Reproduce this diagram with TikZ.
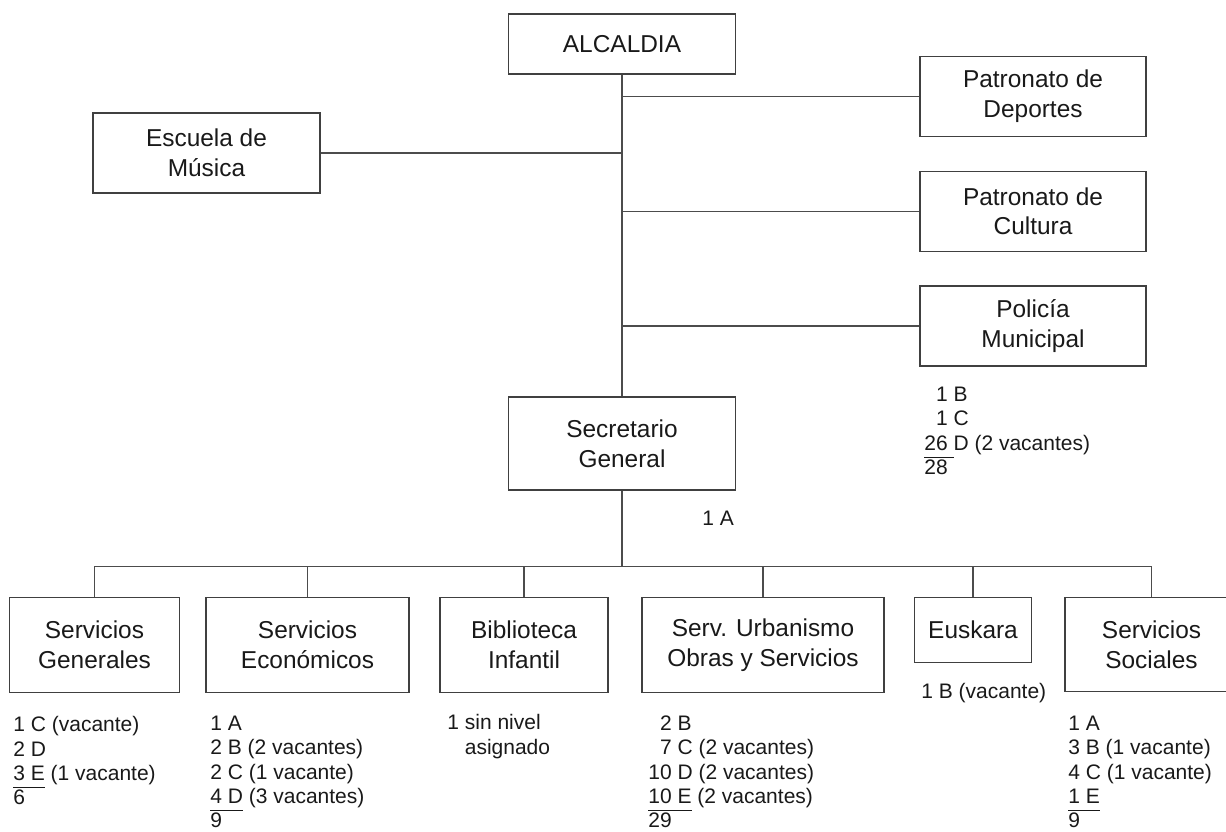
\documentclass[tikz,border=0pt]{standalone}
\usepackage{fontspec}
\setmainfont{Liberation Sans}
\usetikzlibrary{positioning}
\newcommand{\sumbar}[1]{\setbox0\hbox{#1}\rlap{\rule[-4pt]{\wd0}{0.5pt}}\box0\relax}

\begin{document}
\begin{tikzpicture}[
    office/.style={draw=black!75, line width=0.7pt, align=center, inner sep=0pt,
      font=\fontsize{13.9}{17}\selectfont, text=black!90},
    staff/.style={align=left, inner sep=0pt, anchor=base west,
      font=\fontsize{11.95}{13.94}\selectfont, text=black!90},
    link/.style={draw=black!70, line width=0.7pt}]
    \clip (0,0) rectangle (24.52,16.64);

	% top of the chart
    \node[office, minimum width=4.53cm, minimum height=1.2cm] (alcaldia) at (12.44,15.76) {ALCALDIA};
    \node[office, minimum width=4.54cm, minimum height=1.6cm] (escuela) at (4.13,13.58) {Escuela de\\Música};
    \node[office, minimum width=4.52cm, minimum height=1.6cm] (deportes) at (20.66,14.71) {Patronato de\\Deportes};
    \node[office, minimum width=4.52cm, minimum height=1.6cm, below=0.67cm of deportes] (cultura) {Patronato de\\Cultura};
    \node[office, minimum width=4.52cm, minimum height=1.6cm, below=0.67cm of cultura] (policia) {Policía\\Municipal};
    \node[office, minimum width=4.54cm, minimum height=1.86cm] (secretario) at (12.44,7.77) {Secretario\\General};
    \coordinate (bus) at (12.44,5.31);

	% staff notes (anchored on the last line)
    \node[staff] (poList) at (18.48,7.14) {\phantom{2}1 B\\\phantom{2}1 C\\\sumbar{26\ }D (2 vacantes)\\28};
    \node[staff] (secNote) at (14.04,6.12) {1 A};

	% departments
    \node[office, anchor=north, minimum width=3.40cm, minimum height=1.90cm] (sg) at (1.89,4.70) {Servicios\\Generales};
    \node[office, anchor=north, minimum width=4.06cm, minimum height=1.90cm] (se) at (6.15,4.70) {Servicios\\Económicos};
    \node[office, anchor=north, minimum width=3.36cm, minimum height=1.90cm] (bi) at (10.48,4.70) {Biblioteca\\Infantil};
    \node[office, anchor=north, minimum width=4.84cm, minimum height=1.90cm] (su) at (15.26,4.70) {Serv. Urbanismo\\Obras y Servicios};
    \node[office, anchor=north, minimum width=2.35cm, minimum height=1.30cm] (eu) at (19.46,4.70) {Euskara};
    \node[office, anchor=north, minimum width=3.46cm, minimum height=1.88cm] (ss) at (23.03,4.70) {Servicios\\Sociales};

    \node[staff] (sgList) at (0.26,0.54) {1 C (vacante)\\2 D\\\sumbar{3 E} (1 vacante)\\6};
    \node[staff] (seList) at (4.20,0.08) {1 A\\2 B (2 vacantes)\\2 C (1 vacante)\\\sumbar{4 D} (3 vacantes)\\9};
    \node[staff] (biList) at (8.94,1.55) {1 sin nivel\\\phantom{1 }asignado};
    \node[staff] (suList) at (12.96,0.08) {\phantom{1}2 B\\\phantom{1}7 C (2 vacantes)\\10 D (2 vacantes)\\\sumbar{10 E} (2 vacantes)\\29};
    \node[staff] (euNote) at (18.42,2.66) {1 B (vacante)};
    \node[staff] (ssList) at (21.36,0.08) {1 A\\3 B (1 vacante)\\4 C (1 vacante)\\\sumbar{1 E}\\9};

	% connecting lines
    \draw[link] (alcaldia.south) -- (secretario.north);
    \draw[link] (escuela.east) -- (escuela.east -| alcaldia.south);
    \foreach \n in {deportes,cultura,policia}
      \draw[link] (\n.west) -- (\n.west -| alcaldia.south);
    \draw[link] (secretario.south) -- (bus);
    \draw[link] (sg.north |- bus) -- (ss.north |- bus);
    \foreach \n in {sg,se,bi,su,eu,ss}
      \draw[link] (\n.north |- bus) -- (\n.north);
\end{tikzpicture}
\end{document}
